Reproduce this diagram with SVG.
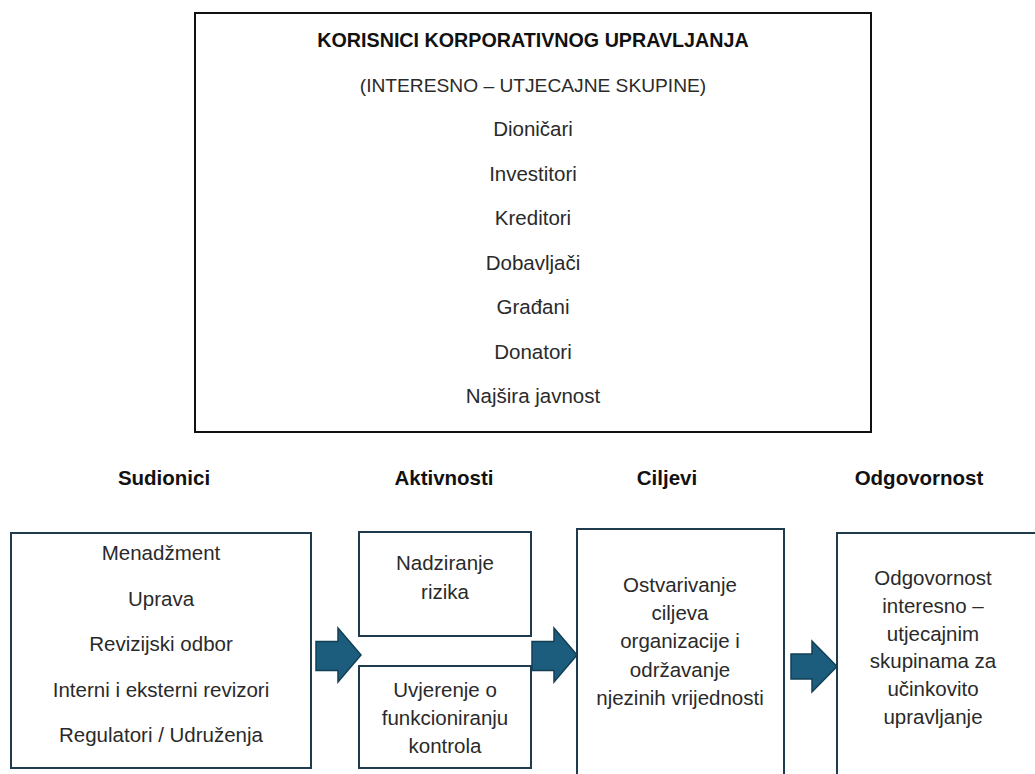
<svg xmlns="http://www.w3.org/2000/svg" width="1035" height="774" viewBox="0 0 1035 774">
<defs>
<style>
.bg{fill:#ffffff}
.top{fill:#ffffff;stroke:#111111;stroke-width:2}
.box{fill:#ffffff;stroke:#1f3b4d;stroke-width:2}
.t{font-family:"Liberation Sans",Arial,sans-serif;font-size:20.5px;fill:#2a2a2a;text-anchor:middle}
.s{font-family:"Liberation Sans",Arial,sans-serif;font-size:19.2px;fill:#2a2a2a;text-anchor:middle}
.b{font-family:"Liberation Sans",Arial,sans-serif;font-size:20.5px;font-weight:bold;fill:#111111;text-anchor:middle}
.bt{font-family:"Liberation Sans",Arial,sans-serif;font-size:19.7px;font-weight:bold;fill:#111111;text-anchor:middle}
.arrow{fill:#1c5d7e;stroke:#133f55;stroke-width:1.5;stroke-linejoin:miter}
</style>
</defs>
<rect class="bg" x="0" y="0" width="1035" height="774"/>
<g id="korisnici">
<rect class="top" x="195" y="13" width="676" height="419"/>
<text class="bt" x="533" y="47">KORISNICI KORPORATIVNOG UPRAVLJANJA</text>
<text class="s" x="533" y="91.5">(INTERESNO – UTJECAJNE SKUPINE)</text>
<text class="t" x="533" y="136">Dioničari</text>
<text class="t" x="533" y="180.5">Investitori</text>
<text class="t" x="533" y="225">Kreditori</text>
<text class="t" x="533" y="269.5">Dobavljači</text>
<text class="t" x="533" y="314">Građani</text>
<text class="t" x="533" y="358.5">Donatori</text>
<text class="t" x="533" y="403">Najšira javnost</text>
</g>
<g id="headers">
<text class="b" x="164" y="485">Sudionici</text>
<text class="b" x="444" y="485">Aktivnosti</text>
<text class="b" x="667" y="485">Ciljevi</text>
<text class="b" x="919" y="485">Odgovornost</text>
</g>
<g id="sudionici">
<rect class="box" x="11" y="533" width="300" height="235"/>
<text class="t" x="161" y="560">Menadžment</text>
<text class="t" x="161" y="606">Uprava</text>
<text class="t" x="161" y="651">Revizijski odbor</text>
<text class="t" x="161" y="697">Interni i eksterni revizori</text>
<text class="t" x="161" y="742">Regulatori / Udruženja</text>
</g>
<g id="nadziranje">
<rect class="box" x="359" y="532" width="172" height="104"/>
<text class="t" x="445" y="570">Nadziranje</text>
<text class="t" x="445" y="599">rizika</text>
</g>
<g id="uvjerenje">
<rect class="box" x="359" y="666" width="172" height="102"/>
<text class="t" x="445" y="697">Uvjerenje o</text>
<text class="t" x="445" y="725">funkcioniranju</text>
<text class="t" x="445" y="753">kontrola</text>
</g>
<g id="ciljevi">
<rect class="box" x="577" y="529" width="207" height="260"/>
<text class="t" x="680" y="592">Ostvarivanje</text>
<text class="t" x="680" y="620">ciljeva</text>
<text class="t" x="680" y="648">organizacije i</text>
<text class="t" x="680" y="677">održavanje</text>
<text class="t" x="680" y="705">njezinih vrijednosti</text>
</g>
<g id="odgovornost">
<rect class="box" x="837" y="533" width="210" height="260"/>
<text class="t" x="933" y="585">Odgovornost</text>
<text class="t" x="933" y="613">interesno –</text>
<text class="t" x="933" y="641">utjecajnim</text>
<text class="t" x="933" y="668">skupinama za</text>
<text class="t" x="933" y="696">učinkovito</text>
<text class="t" x="933" y="724">upravljanje</text>
</g>
<g id="connectors">
<polygon class="arrow" points="316,641.5 338,641.5 338,628 361,655 338,682 338,670.5 316,670.5"/>
<polygon class="arrow" points="532,641.5 554,641.5 554,628 577,655 554,682 554,670.5 532,670.5"/>
<polygon class="arrow" points="791,654 812,654 812,641 837,666.5 812,692 812,679 791,679"/>
</g>
</svg>
